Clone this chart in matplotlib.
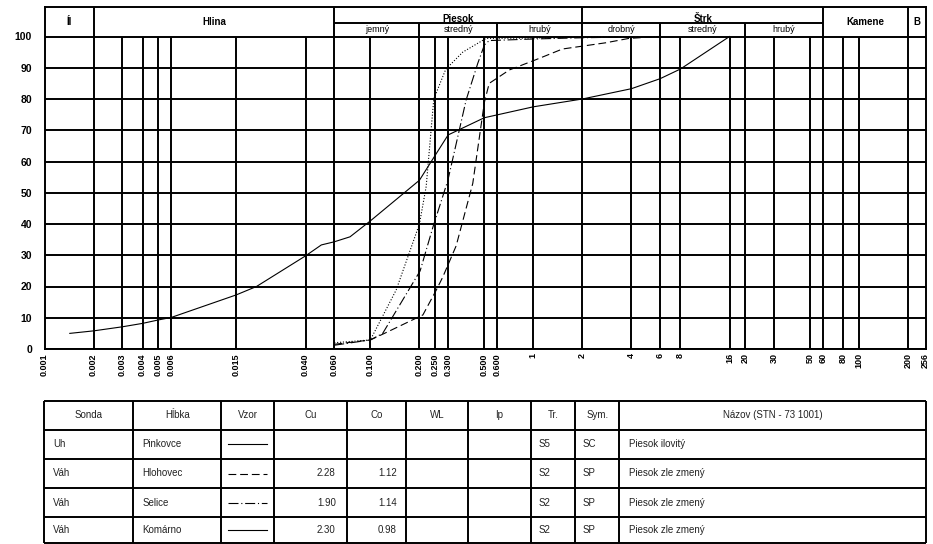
import matplotlib
matplotlib.use("Agg")
import matplotlib.pyplot as plt
from matplotlib.ticker import NullLocator, FixedLocator, FixedFormatter
import numpy as np

# ---------------- data ----------------
sieve_ticks = [0.001, 0.002, 0.003, 0.004, 0.005, 0.006, 0.015, 0.040, 0.060,
               0.100, 0.200, 0.250, 0.300, 0.500, 0.600, 1, 2, 4, 6, 8, 16, 20,
               30, 50, 60, 80, 100, 200, 256]
sieve_labels = ["0.001", "0.002", "0.003", "0.004", "0.005", "0.006", "0.015",
                "0.040", "0.060", "0.100", "0.200", "0.250", "0.300", "0.500",
                "0.600", "1", "2", "4", "6", "8", "16", "20", "30", "50", "60",
                "80", "100", "200", "256"]
y_ticks = [0, 10, 20, 30, 40, 50, 60, 70, 80, 90, 100]

pinkovce_x = [0.00143, 0.002, 0.003, 0.004, 0.005, 0.006, 0.015, 0.02, 0.04,
              0.05, 0.06, 0.075, 0.1, 0.2, 0.25, 0.3, 0.5, 1, 2, 4, 6, 8, 16]
pinkovce_y = [5.0, 5.8, 7.1, 8.2, 9.3, 10.1, 17.3, 20.0, 29.8, 33.3, 34.3, 35.9,
              41.0, 54.0, 62.0, 68.5, 74.0, 77.5, 80.0, 83.3, 86.5, 89.6, 100.0]

hlohovec_x = [0.06, 0.1, 0.122, 0.21, 0.254, 0.278, 0.336, 0.425, 0.501, 0.536,
              0.713, 1.04, 1.51, 2.79, 3.87, 6.0]
hlohovec_y = [1.5, 2.9, 5.0, 10.9, 18.9, 23.0, 33.0, 53.0, 79.0, 85.0, 89.3,
              92.6, 96.0, 98.0, 99.4, 100.0]

selice_x = [0.06, 0.1, 0.119, 0.202, 0.242, 0.299, 0.387, 0.456, 0.501, 0.536,
            1.0, 2.0, 6.0]
selice_y = [1.2, 2.9, 5.0, 25.0, 39.0, 54.0, 79.7, 91.4, 97.3, 98.7, 99.2,
            99.6, 100.0]

komarno_x = [0.06, 0.1, 0.144, 0.2, 0.22, 0.245, 0.29, 0.369, 0.513, 1.0, 2.0, 4.0]
komarno_y = [2.0, 2.9, 18.9, 40.0, 52.0, 80.0, 89.5, 95.0, 99.4, 99.5, 99.8, 100.0]

tbl_header = ["Sonda", "Hĺbka", "Vzor", "Cu", "Co", "WL", "Ip", "Tr.", "Sym.",
              "Názov (STN - 73 1001)"]
tbl_sonda = ["Uh", "Váh", "Váh", "Váh"]
tbl_hlbka = ["Pinkovce", "Hlohovec", "Selice", "Komárno"]
tbl_cu = ["", "2.28", "1.90", "2.30"]
tbl_co = ["", "1.12", "1.14", "0.98"]
tbl_tr = ["S5", "S2", "S2", "S2"]
tbl_sym = ["SC", "SP", "SP", "SP"]
tbl_nazov = ["Piesok ilovitý", "Piesok zle zmený", "Piesok zle zmený",
             "Piesok zle zmený"]

# ---------------- styles ----------------
W, H = 933, 544
styles = {
    "solid": dict(ls="-"),
    "dash": dict(ls=(0, (7, 3.5))),
    "dashdot": dict(ls=(0, (9, 2.5, 1, 2.5))),
    "dot": dict(ls=(0, (1, 1.6))),
}
GL = 1.4  # grid line width
FONT = "Liberation Sans"

fig = plt.figure(figsize=(W / 100, H / 100), dpi=100)

# main chart axes (pixel geometry)
x_left, x_right = 44.5, 926.0
y_top, y_zero, y_hundred = 7.0, 349.0, 36.5
ppu = (y_zero - y_hundred) / 100.0
ytop_data = (y_zero - y_top) / ppu
ymid_data = (y_zero - 22.7) / ppu

ax = fig.add_axes([x_left / W, 1 - y_zero / H, (x_right - x_left) / W,
                   (y_zero - y_top) / H])
ax.set_xscale("log")
xmax = 257.0
ax.set_xlim(0.001, xmax)
ax.set_ylim(0, ytop_data)

# grid
for yv in y_ticks:
    ax.axhline(yv, color="black", lw=GL, zorder=1)
ax.vlines(sieve_ticks[1:-1], 0, 100, color="black", lw=GL, zorder=1)

# header
ax.vlines([0.002, 0.06, 2, 60, 200], 100, ytop_data, color="black", lw=GL,
          clip_on=False)
ax.vlines([0.2, 0.6, 6, 20], 100, ymid_data, color="black", lw=GL, clip_on=False)
ax.hlines(ymid_data, 0.06, 60, color="black", lw=GL)

hdr_kw = dict(ha="center", fontsize=7, fontweight="bold", family=FONT)
yc_full = (100 + ytop_data) / 2
ax.text(np.sqrt(0.001 * 0.002), yc_full, "Íl", va="center", **hdr_kw)
ax.text(np.sqrt(0.002 * 0.06), yc_full, "Hlina", va="center", **hdr_kw)
ax.text(np.sqrt(60 * 200), yc_full, "Kamene", va="center", **hdr_kw)
ax.text(np.sqrt(200 * xmax), yc_full, "B", va="center", **hdr_kw)
ax.text(np.sqrt(0.06 * 2), ymid_data - 0.3, "Piesok", va="bottom", **hdr_kw)
ax.text(np.sqrt(2 * 60), ymid_data - 0.3, "Štrk", va="bottom", **hdr_kw)
yc_sub = (100 + ymid_data) / 2
for a, b, s in [(0.06, 0.2, "jemný"), (0.2, 0.6, "stredný"), (0.6, 2, "hrubý"),
                (2, 6, "drobný"), (6, 20, "stredný"), (20, 60, "hrubý")]:
    ax.text(np.sqrt(a * b), yc_sub, s, va="center", ha="center", fontsize=6.5,
            family=FONT)

# curves
ax.plot(pinkovce_x, pinkovce_y, color="black", lw=0.8, zorder=3, **styles["solid"])
ax.plot(hlohovec_x, hlohovec_y, color="black", lw=0.8, zorder=3, **styles["dash"])
ax.plot(selice_x, selice_y, color="black", lw=0.8, zorder=3, **styles["dashdot"])
ax.plot(komarno_x, komarno_y, color="black", lw=0.8, zorder=3, **styles["dot"])

# ticks
ax.xaxis.set_major_locator(FixedLocator(sieve_ticks))
ax.xaxis.set_major_formatter(FixedFormatter(sieve_labels))
ax.xaxis.set_minor_locator(NullLocator())
ax.set_yticks(y_ticks)
ax.set_yticklabels([str(v) for v in y_ticks])
ax.tick_params(axis="both", length=0)
ax.tick_params(axis="x", pad=3)
ax.tick_params(axis="y", pad=9)
for lab in ax.get_xticklabels():
    lab.set_rotation(90)
    lab.set_fontsize(6.5)
    lab.set_fontweight("bold")
    lab.set_family(FONT)
for lab in ax.get_yticklabels():
    lab.set_fontsize(7.5)
    lab.set_fontweight("bold")
    lab.set_family(FONT)
for sp in ax.spines.values():
    sp.set_linewidth(GL)

# ---------------- table ----------------
tax = fig.add_axes([0, 0, 1, 1])
tax.set_xlim(0, W)
tax.set_ylim(H, 0)
tax.axis("off")
col_x = [44.3, 133.3, 221, 274, 346.7, 406, 468.3, 530.7, 575, 619.3, 926]
row_y = [401, 429.5, 459, 488, 517, 543]
tax.hlines(row_y, col_x[0], col_x[-1], color="black", lw=GL)
tax.vlines(col_x, row_y[0], row_y[-1], color="black", lw=GL)

tc = "#222222"
for i, h in enumerate(tbl_header):
    tax.text((col_x[i] + col_x[i + 1]) / 2, (row_y[0] + row_y[1]) / 2, h,
             ha="center", va="center", fontsize=7, color=tc, family=FONT)

vzor_styles = ["solid", "dash", "dashdot", "solid"]
for r in range(4):
    yc = (row_y[r + 1] + row_y[r + 2]) / 2
    tax.text(col_x[0] + 9, yc, tbl_sonda[r], ha="left", va="center", fontsize=7,
             color=tc, family=FONT)
    tax.text(col_x[1] + 9, yc, tbl_hlbka[r], ha="left", va="center", fontsize=7,
             color=tc, family=FONT)
    tax.plot([col_x[2] + 7, col_x[3] - 7], [yc, yc], color="black", lw=0.8,
             **styles[vzor_styles[r]])
    tax.text(col_x[4] - 11, yc, tbl_cu[r], ha="right", va="center", fontsize=7,
             color=tc, family=FONT)
    tax.text(col_x[5] - 9, yc, tbl_co[r], ha="right", va="center", fontsize=7,
             color=tc, family=FONT)
    tax.text(col_x[7] + 8, yc, tbl_tr[r], ha="left", va="center", fontsize=7,
             color=tc, family=FONT)
    tax.text(col_x[8] + 8, yc, tbl_sym[r], ha="left", va="center", fontsize=7,
             color=tc, family=FONT)
    tax.text(col_x[9] + 10, yc, tbl_nazov[r], ha="left", va="center", fontsize=7,
             color=tc, family=FONT)

fig.savefig("out.png", dpi=100)
